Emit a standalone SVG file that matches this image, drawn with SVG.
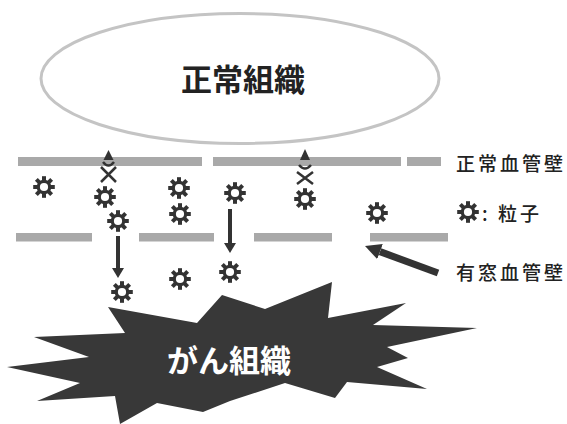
<svg xmlns="http://www.w3.org/2000/svg" xmlns:xlink="http://www.w3.org/1999/xlink" width="567" height="424" viewBox="0 0 567 424">
<style>
.jp{font-family:"Noto Sans CJK JP","Noto Sans",sans-serif;}
.title{font-size:31px;font-weight:700;fill:#222;text-anchor:middle;}
.legend{font-size:19px;font-weight:500;fill:#222;letter-spacing:3px;}
.bar{fill:#a9a9a9;}
.dark{fill:#333;}
.conn{stroke:#333;fill:none;}
</style>
<defs>
<g id="gear">
<g fill="#333">
<circle r="7.3"/>
<rect x="-2" y="-10.8" width="4" height="6"/>
<rect x="-2" y="-10.8" width="4" height="6" transform="rotate(45)"/>
<rect x="-2" y="-10.8" width="4" height="6" transform="rotate(90)"/>
<rect x="-2" y="-10.8" width="4" height="6" transform="rotate(135)"/>
<rect x="-2" y="-10.8" width="4" height="6" transform="rotate(180)"/>
<rect x="-2" y="-10.8" width="4" height="6" transform="rotate(225)"/>
<rect x="-2" y="-10.8" width="4" height="6" transform="rotate(270)"/>
<rect x="-2" y="-10.8" width="4" height="6" transform="rotate(315)"/>
</g>
<circle r="4.1" fill="#fff"/>
</g>
<marker id="headS" markerUnits="userSpaceOnUse" markerWidth="10" markerHeight="12" refX="0" refY="6" orient="auto">
<path d="M0,0 L10,6 L0,12 z" fill="#333"/>
</marker>
<marker id="headL" markerUnits="userSpaceOnUse" markerWidth="16" markerHeight="16" refX="0" refY="8" orient="auto">
<path d="M0,0 L16,8 L0,16 z" fill="#333"/>
</marker>
</defs>

<g id="normal-tissue">
<ellipse cx="240" cy="78.5" rx="199" ry="65" fill="#fff" stroke="#c4c4c4" stroke-width="3"/>
<text class="jp title" x="243" y="91">正常組織</text>
</g>

<g id="normal-vessel-wall">
<rect class="bar" x="18" y="157" width="184" height="9"/>
<rect class="bar" x="213" y="157" width="188" height="9"/>
<rect class="bar" x="407" y="157" width="34" height="9"/>
</g>

<g id="fenestrated-vessel-wall">
<rect class="bar" x="16" y="233" width="76" height="8.5"/>
<rect class="bar" x="139" y="233" width="75" height="8.5"/>
<rect class="bar" x="254" y="233" width="78" height="8.5"/>
<rect class="bar" x="370" y="233" width="78" height="8.5"/>
</g>

<g id="cancer-tissue">
<polygon fill="#383838" points="108,307 197,323 222,295 265,309 332,282 328,318 406,303 373,325 477,328 387,347 408,358 377,367 427,389 347,382 335,398 285,383 230,401 203,412 157,403 120,424 115,396 37,401 80,383 7,367 89,357 34,337 125,333"/>
<text class="jp title" x="229" y="372" style="fill:#fff">がん組織</text>
</g>

<g id="particles">
<use xlink:href="#gear" x="44" y="187"/>
<use xlink:href="#gear" x="105" y="197"/>
<use xlink:href="#gear" x="118" y="221"/>
<use xlink:href="#gear" x="179" y="188"/>
<use xlink:href="#gear" x="180" y="214"/>
<use xlink:href="#gear" x="235" y="193"/>
<use xlink:href="#gear" x="305" y="199"/>
<use xlink:href="#gear" x="377" y="213"/>
<use xlink:href="#gear" x="122" y="292"/>
<use xlink:href="#gear" x="180" y="279"/>
<use xlink:href="#gear" x="230" y="272"/>
</g>

<g id="connectors">
<line class="conn" x1="118" y1="236" x2="118" y2="268" stroke-width="4" marker-end="url(#headS)"/>
<line class="conn" x1="230" y1="209" x2="230" y2="243" stroke-width="4" marker-end="url(#headS)"/>
<line class="conn" x1="438" y1="273" x2="380" y2="251.6" stroke-width="7" marker-end="url(#headL)"/>
<g id="blocked-1">
<polygon class="dark" points="108.5,150 103.5,160 113.5,160"/>
<path class="conn" d="M103,162 Q108.5,169 114,162" stroke-width="2.5"/>
<path class="conn" d="M101,167 L116,182 M116,167 L101,182" stroke-width="2.5"/>
</g>
<g id="blocked-2">
<polygon class="dark" points="305,149 300,160 310,160"/>
<path class="conn" d="M299,165 Q305,172 311,165" stroke-width="2.5"/>
<path class="conn" d="M297,172 L313,184 M313,172 L297,184" stroke-width="2.5"/>
</g>
</g>

<g id="legend">
<text class="jp legend" x="456" y="171">正常血管壁</text>
<use xlink:href="#gear" x="468" y="212"/>
<text class="jp legend" x="482" y="221">: 粒子</text>
<text class="jp legend" x="456" y="280">有窓血管壁</text>
</g>
</svg>
